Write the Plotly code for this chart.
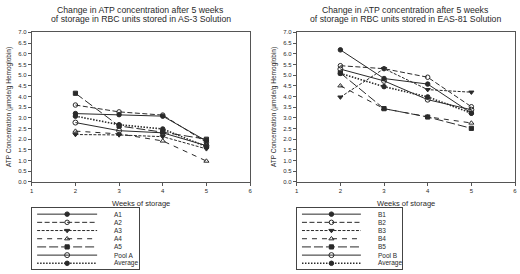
import plotly.graph_objects as go

# ---------------- data ----------------
weeks = [2, 3, 4, 5]

names_a = ["A1", "A2", "A3", "A4", "A5", "Pool A", "Average"]
a1 = [3.20, 3.15, 3.08, 1.92]
a2 = [3.60, 3.28, 3.13, 1.85]
a3 = [2.22, 2.20, 2.12, 1.55]
a4 = [2.38, 2.25, 1.92, 0.98]
a5 = [4.15, 2.62, 2.33, 2.00]
pool_a = [2.78, 2.40, 2.30, 1.70]
avg_a = [3.08, 2.68, 2.48, 1.65]
series_a = [a1, a2, a3, a4, a5, pool_a, avg_a]

names_b = ["B1", "B2", "B3", "B4", "B5", "Pool B", "Average"]
b1 = [6.18, 4.84, 4.58, 3.22]
b2 = [5.44, 5.30, 4.90, 3.52]
b3 = [3.97, 5.30, 4.32, 4.20]
b4 = [4.50, 3.43, 3.05, 2.76]
b5 = [5.10, 3.43, 3.04, 2.51]
pool_b = [5.28, 4.73, 3.85, 3.38]
avg_b = [5.08, 4.46, 3.98, 3.22]
series_b = [b1, b2, b3, b4, b5, pool_b, avg_b]

title_a = ["Change in ATP concentration after 5 weeks",
           "of storage in RBC units stored in AS-3 Solution"]
title_b = ["Change in ATP concentration after 5 weeks",
           "of storage in RBC units stored in EAS-81 Solution"]
x_title = "Weeks of storage"
y_title = "ATP Concentration (µmole/g Hemoglobin)"
y_ticks = [0.0, 0.5, 1.0, 1.5, 2.0, 2.5, 3.0, 3.5, 4.0, 4.5, 5.0, 5.5, 6.0, 6.5, 7.0]
x_ticks = [1, 2, 3, 4, 5, 6]

# ---------------- styles ----------------
INK = "#2a2a2a"
FONT = "Liberation Sans, Arial, sans-serif"
styles = [
    dict(dash="solid", width=1, symbol="circle", size=4.5),
    dict(dash="5px,2.5px", width=1, symbol="circle-open", size=4.5),
    dict(dash="3px,1.5px", width=1, symbol="triangle-down", size=4.5),
    dict(dash="5px,5px", width=1, symbol="triangle-up-open", size=4.5),
    dict(dash="9px,3px", width=1, symbol="square", size=4.2),
    dict(dash="solid", width=1, symbol="circle-open", size=5),
    dict(dash="1.5px,1.5px", width=1.6, symbol="circle", size=4.5),
]

fig = go.Figure()

W, H = 520, 274


def px_x(p):
    return p / W


def px_y(p):
    return 1 - p / H


# main plots
panels = [
    dict(series=series_a, names=names_a, xa="x", ya="y", title=title_a),
    dict(series=series_b, names=names_b, xa="x2", ya="y2", title=title_b),
]
for pan in panels:
    for vals, nm, st in zip(pan["series"], pan["names"], styles):
        fig.add_trace(go.Scatter(
            x=weeks, y=vals, name=nm, mode="lines+markers",
            xaxis=pan["xa"], yaxis=pan["ya"], showlegend=False,
            line=dict(color=INK, width=st["width"], dash=st["dash"]),
            marker=dict(symbol=st["symbol"], size=st["size"], color=INK,
                        line=dict(color=INK, width=1)),
        ))

# legend samples (drawn on dedicated legend axes)
leg_panels = [
    dict(names=names_a, xa="x3", ya="y3"),
    dict(names=names_b, xa="x4", ya="y4"),
]
n_items = len(names_a)
for lp in leg_panels:
    for i, (nm, st) in enumerate(zip(lp["names"], styles)):
        row = n_items - i
        fig.add_trace(go.Scatter(
            x=[0.05, 0.33, 0.61], y=[row, row, row], mode="lines",
            xaxis=lp["xa"], yaxis=lp["ya"], showlegend=False, hoverinfo="skip",
            line=dict(color=INK, width=st["width"], dash=st["dash"]),
        ))
        fig.add_trace(go.Scatter(
            x=[0.33], y=[row], mode="markers",
            xaxis=lp["xa"], yaxis=lp["ya"], showlegend=False, hoverinfo="skip",
            marker=dict(symbol=st["symbol"], size=st["size"], color=INK,
                        line=dict(color=INK, width=1)),
        ))
        fig.add_annotation(
            x=0.75, y=row, xref=lp["xa"], yref=lp["ya"], text=nm,
            showarrow=False, xanchor="left", yanchor="middle",
            font=dict(size=6.5, color=INK, family=FONT),
        )

# plot-area positions (pixels)
plot_top, plot_bot = 30, 183
left_x0, left_x1 = 30, 250
right_x0, right_x1 = 297, 517

axis_common = dict(
    showline=True, mirror=True, linecolor="#555", linewidth=1,
    ticks="outside", ticklen=3, tickwidth=1, tickcolor="#555",
    showgrid=False, zeroline=False,
    tickfont=dict(size=6, color=INK, family=FONT),
)

fig.update_layout(
    width=W, height=H, autosize=False,
    margin=dict(l=0, r=0, t=0, b=0),
    paper_bgcolor="white", plot_bgcolor="white",
    font=dict(family=FONT, color=INK),
    xaxis=dict(domain=[px_x(left_x0), px_x(left_x1)], range=[1, 6], tickvals=x_ticks,
               anchor="y", **axis_common),
    yaxis=dict(domain=[px_y(plot_bot), px_y(plot_top)], range=[0, 7], tickvals=y_ticks,
               tickformat=".1f", anchor="x", **axis_common),
    xaxis2=dict(domain=[px_x(right_x0), px_x(right_x1)], range=[1, 6], tickvals=x_ticks,
                anchor="y2", **axis_common),
    yaxis2=dict(domain=[px_y(plot_bot), px_y(plot_top)], range=[0, 7], tickvals=y_ticks,
                tickformat=".1f", anchor="x2", **axis_common),
)

leg_axis = dict(showline=True, mirror=True, linecolor="#444", linewidth=1.3,
                showticklabels=False, ticks="", showgrid=False, zeroline=False,
                fixedrange=True)
fig.update_layout(
    xaxis3=dict(domain=[px_x(30), px_x(138)], range=[0, 1], anchor="y3", **leg_axis),
    yaxis3=dict(domain=[px_y(272), px_y(210)], range=[0.3, n_items + 0.7], anchor="x3", **leg_axis),
    xaxis4=dict(domain=[px_x(297), px_x(403)], range=[0, 1], anchor="y4", **leg_axis),
    yaxis4=dict(domain=[px_y(272), px_y(210)], range=[0.3, n_items + 0.7], anchor="x4", **leg_axis),
)

# titles and axis titles
title_rows = [7, 16.3]
for pan, (x0, x1) in zip(panels, [(left_x0, left_x1), (right_x0, right_x1)]):
    cx = px_x((x0 + x1) / 2)
    for line, ty in zip(pan["title"], title_rows):
        fig.add_annotation(x=cx, y=px_y(ty), xref="paper", yref="paper", text=line,
                           showarrow=False, xanchor="center", yanchor="middle",
                           font=dict(size=8.7, color=INK, family=FONT))
    fig.add_annotation(x=cx, y=px_y(205), xref="paper", yref="paper", text=x_title,
                       showarrow=False, xanchor="center", yanchor="middle",
                       font=dict(size=7.5, color=INK, family=FONT))
    fig.add_annotation(x=px_x(x0 - 23), y=px_y((plot_top + plot_bot) / 2), xref="paper", yref="paper",
                       text=y_title, textangle=-90, showarrow=False,
                       xanchor="center", yanchor="middle",
                       font=dict(size=6.5, color=INK, family=FONT))

fig.write_html(
    "out.html",
    config={"displayModeBar": False},
    post_script="document.body.style.margin='0';document.body.style.overflow='hidden';",
)
